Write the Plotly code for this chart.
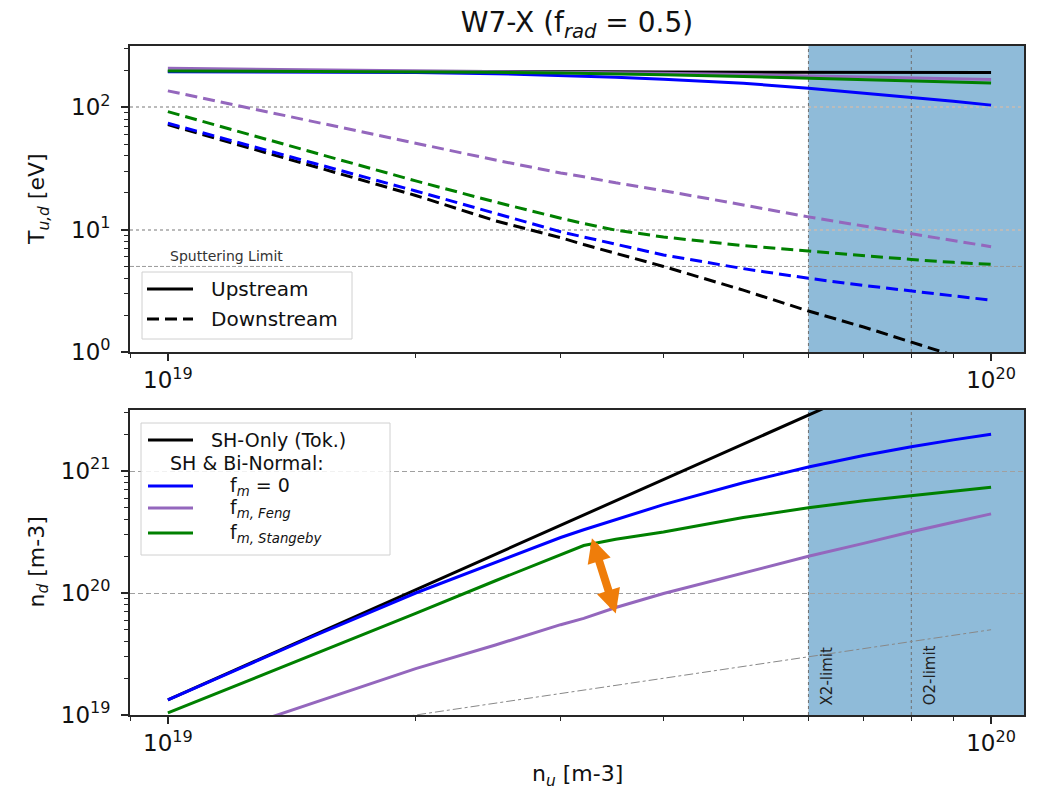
import plotly.graph_objects as go
import math

# ---------------- data ----------------
n_u = [1.0e19, 1.25e19, 1.5e19, 2.0e19, 2.5e19, 3.0e19, 3.2e19, 3.5e19,
       4.0e19, 5.0e19, 6.0e19, 7.0e19, 8.0e19, 9.0e19, 1.0e20]

# upstream temperature [eV]
T_up_sh       = [197, 197, 196, 196, 196, 195, 195, 195, 194, 193, 192, 192, 192, 192, 192]
T_up_fm0      = [195, 194, 193, 192, 188, 182, 180, 176, 169, 157, 143, 131, 121, 112, 104]
T_up_feng     = [208, 205, 203, 200, 197, 194, 193, 191, 189, 185, 181, 177, 174, 171, 168]
T_up_stangeby = [198, 197, 196, 195, 193, 190, 189, 187, 184, 178, 172, 167, 163, 160, 158]

# downstream temperature [eV]
T_dn_sh       = [72, 47, 33, 19, 11.8, 8.6, 7.55, 6.4, 5.0, 3.2, 2.16, 1.6, 1.2, 0.94, 0.75]
T_dn_fm0      = [74, 48.8, 35, 20.7, 13.5, 9.6, 8.7, 7.6, 6.2, 4.8, 4.0, 3.5, 3.15, 2.88, 2.65]
T_dn_feng     = [136, 99, 77, 51, 37, 29, 27, 24.1, 20.8, 15.9, 12.7, 10.7, 9.25, 8.1, 7.25]
T_dn_stangeby = [92, 60, 42.8, 25, 16.8, 12.4, 11.2, 9.9, 8.7, 7.4, 6.7, 6.1, 5.7, 5.4, 5.2]

# downstream density [m-3]
nd_sh       = [1.33e19, 2.6e19, 4.5e19, 1.06e20, 2.08e20, 3.6e20, 4.36e20, 5.7e20,
               8.5e20, 1.66e21, 2.87e21, 4.56e21, 6.8e21, 9.7e21, 1.33e22]
nd_fm0      = [1.33e19, 2.58e19, 4.4e19, 1.0e20, 1.77e20, 2.85e20, 3.3e20, 4.0e20,
               5.3e20, 8.0e20, 1.08e21, 1.34e21, 1.58e21, 1.8e21, 2.0e21]
nd_feng     = [5.0e18, 8.3e18, 1.25e19, 2.4e19, 3.75e19, 5.5e19, 6.2e19, 7.6e19,
               9.9e19, 1.45e20, 2.0e20, 2.55e20, 3.18e20, 3.8e20, 4.45e20]
nd_stangeby = [1.04e19, 1.9e19, 3.1e19, 6.8e19, 1.26e20, 2.07e20, 2.45e20, 2.76e20,
               3.16e20, 4.15e20, 5.0e20, 5.7e20, 6.3e20, 6.85e20, 7.35e20]

# reference line n_d = n_u / 2
ref_nu = [1.0e19, 1.0e20]
ref_nd = [0.5e19, 0.5e20]

SPUTTER_T = 5.0
X2_LIMIT = 6.0e19
O2_LIMIT = 8.0e19

arrow_top = (3.27e19, 2.89e20)
arrow_bot = (3.50e19, 6.8e19)

XRANGE = [18.954, 20.040]
Y1RANGE = [0.0, 2.5]
Y2RANGE = [19.0, 21.5]

# ---------------- styling ----------------
FONT = "DejaVu Sans"
W, H = 1043, 798
ML, MR, MT, MB = 130, 19, 46, 83
PH = H - MT - MB
top_dom = [1 - (352 - MT) / PH, 1.0]
bot_dom = [0.0, 1 - (410 - MT) / PH]

C_BLACK = "#000000"
C_BLUE = "#0000ff"
C_PURPLE = "#9467bd"
C_GREEN = "#008000"
C_SHADE = "rgba(31,119,180,0.5)"
DASH = "12px,6px"
LW = 3

fig = go.Figure()

def add(x, y, color, dash, xa, ya, width=LW):
    fig.add_trace(go.Scatter(x=x, y=y, mode="lines", xaxis=xa, yaxis=ya,
                             line=dict(color=color, width=width, dash=dash),
                             showlegend=False, hoverinfo="skip"))

# top panel
add(n_u, T_up_sh, C_BLACK, "solid", "x", "y")
add(n_u, T_up_fm0, C_BLUE, "solid", "x", "y")
add(n_u, T_up_feng, C_PURPLE, "solid", "x", "y")
add(n_u, T_up_stangeby, C_GREEN, "solid", "x", "y")
add(n_u, T_dn_sh, C_BLACK, DASH, "x", "y")
add(n_u, T_dn_fm0, C_BLUE, DASH, "x", "y")
add(n_u, T_dn_feng, C_PURPLE, DASH, "x", "y")
add(n_u, T_dn_stangeby, C_GREEN, DASH, "x", "y")

# bottom panel
add(ref_nu, ref_nd, "#888888", "dashdot", "x2", "y2", width=1)
add(n_u, nd_sh, C_BLACK, "solid", "x2", "y2")
add(n_u, nd_fm0, C_BLUE, "solid", "x2", "y2")
add(n_u, nd_feng, C_PURPLE, "solid", "x2", "y2")
add(n_u, nd_stangeby, C_GREEN, "solid", "x2", "y2")

def minor_vals(lo, hi):
    vals = []
    for d in range(lo, hi + 1):
        for m in range(2, 10):
            vals.append(m * 10.0 ** d)
    return vals

def sup(e):
    return "10<sup>%d</sup>" % e

axis_common = dict(type="log", showline=True, mirror=True, linecolor="#262626",
                   linewidth=1.6, ticks="outside", ticklen=7, tickwidth=1.5,
                   tickcolor="#262626", tickfont=dict(family=FONT, size=23, color="#111"),
                   zeroline=False)

x_ticks = dict(tickmode="array", tickvals=[1e19, 1e20], ticktext=[sup(19), sup(20)],
               minor=dict(tickmode="array", tickvals=minor_vals(18, 19), ticks="outside",
                          ticklen=4, tickwidth=1.2, tickcolor="#262626", showgrid=False),
               range=XRANGE, showgrid=False)

fig.update_layout(
    xaxis=dict(**axis_common, **x_ticks, domain=[0, 1], anchor="y"),
    xaxis2=dict(**axis_common, **x_ticks, domain=[0, 1], anchor="y2"),
    yaxis=dict(**axis_common, domain=top_dom, anchor="x", range=Y1RANGE,
               tickmode="array", tickvals=[1, 10, 100], ticktext=[sup(0), sup(1), sup(2)],
               ticklabelstandoff=6,
               showgrid=True, gridcolor="#bbbbbb", gridwidth=2, griddash="3px,3px",
               minor=dict(tickmode="array", tickvals=minor_vals(0, 2), ticks="outside",
                          ticklen=4, tickwidth=1.2, tickcolor="#262626", showgrid=False)),
    yaxis2=dict(**axis_common, domain=bot_dom, anchor="x2", range=Y2RANGE,
                tickmode="array", tickvals=[1e19, 1e20, 1e21], ticktext=[sup(19), sup(20), sup(21)],
                ticklabelstandoff=6,
                showgrid=True, gridcolor="#a0a0a0", gridwidth=1, griddash="5px,3px",
                minor=dict(tickmode="array", tickvals=minor_vals(19, 21), ticks="outside",
                           ticklen=4, tickwidth=1.2, tickcolor="#262626", showgrid=False)),
    width=W, height=H, margin=dict(l=ML, r=MR, t=MT, b=MB),
    plot_bgcolor="white", paper_bgcolor="white",
    font=dict(family=FONT, color="#111"),
    hovermode=False, showlegend=False,
    title=dict(text="W7-X (f<sub><i>rad</i></sub> = 0.5)", x=0.5, xref="paper",
               xanchor="center", y=1 - 22 / H, yref="container", yanchor="middle",
               font=dict(family=FONT, size=28, color="#111")),
)

shapes = []
x_right = 10 ** XRANGE[1]
for xa, ya in [("x", "y"), ("x2", "y2")]:
    shapes.append(dict(type="rect", xref=xa, yref=ya + " domain", x0=X2_LIMIT, x1=x_right,
                       y0=0, y1=1, fillcolor=C_SHADE, line=dict(width=0), layer="below"))
    for xv in (X2_LIMIT, O2_LIMIT):
        shapes.append(dict(type="line", xref=xa, yref=ya + " domain", x0=xv, x1=xv, y0=0, y1=1,
                           line=dict(color="#6e6e6e", width=1, dash="3px,3px"), layer="below"))
# sputtering limit
shapes.append(dict(type="line", xref="x domain", yref="y", x0=0, x1=1, y0=SPUTTER_T, y1=SPUTTER_T,
                   line=dict(color="#999999", width=1, dash="4px,2px"), layer="below"))

annotations = []

# legends (manual)
PW = W - ML - MR
def dx(px):
    return (px - ML) / PW
def dy_top(py):
    return (352 - py) / (352 - 46)
def dy_bot(py):
    return (715 - py) / (715 - 410)

# top legend
shapes.append(dict(type="rect", xref="x domain", yref="y domain", x0=dx(142), x1=dx(352),
                   y0=dy_top(339), y1=dy_top(272), fillcolor="rgba(255,255,255,0.85)",
                   line=dict(color="#d0d0d0", width=1), layer="above"))
for py, dash, label in [(289, "solid", "Upstream"), (319, DASH, "Downstream")]:
    shapes.append(dict(type="line", xref="x domain", yref="y domain", x0=dx(147), x1=dx(193),
                       y0=dy_top(py), y1=dy_top(py), line=dict(color=C_BLACK, width=3, dash=dash),
                       layer="above"))
    annotations.append(dict(text=label, xref="x domain", yref="y domain", x=dx(209), y=dy_top(py),
                            xanchor="left", yanchor="middle", showarrow=False,
                            font=dict(family=FONT, size=20, color="#111")))

# bottom legend
LEG_FS = 19
shapes.append(dict(type="rect", xref="x2 domain", yref="y2 domain", x0=dx(141), x1=dx(390),
                   y0=dy_bot(555), y1=dy_bot(423), fillcolor="rgba(255,255,255,0.85)",
                   line=dict(color="#d0d0d0", width=1), layer="above"))
leg2 = [(440, C_BLACK, "SH-Only (Tok.)", 210),
        (486, C_BLUE, "f<sub><i>m</i></sub> = 0", 229),
        (508, C_PURPLE, "f<sub><i>m, Feng</i></sub>", 229),
        (533, C_GREEN, "f<sub><i>m, Stangeby</i></sub>", 229)]
for py, col, label, tx in leg2:
    shapes.append(dict(type="line", xref="x2 domain", yref="y2 domain", x0=dx(148), x1=dx(193),
                       y0=dy_bot(py), y1=dy_bot(py), line=dict(color=col, width=3), layer="above"))
    annotations.append(dict(text=label, xref="x2 domain", yref="y2 domain", x=dx(tx), y=dy_bot(py),
                            xanchor="left", yanchor="middle", showarrow=False, borderpad=0,
                            font=dict(family=FONT, size=LEG_FS, color="#111")))
annotations.append(dict(text="SH &amp; Bi-Normal:", xref="x2 domain", yref="y2 domain", x=dx(169),
                        y=dy_bot(463), xanchor="left", yanchor="middle", showarrow=False,
                        borderpad=0, font=dict(family=FONT, size=LEG_FS, color="#111")))

# sputtering limit text
annotations.append(dict(text="Sputtering Limit", xref="x", yref="y", x=math.log10(n_u[0]),
                        y=math.log10(SPUTTER_T), xanchor="left", yanchor="bottom", yshift=0,
                        showarrow=False, font=dict(family=FONT, size=14, color="#333")))

# X2 / O2 limit labels
for xv, label in [(X2_LIMIT, "X2-limit"), (O2_LIMIT, "O2-limit")]:
    annotations.append(dict(text=label, xref="x2", yref="y2 domain", x=math.log10(xv), y=0,
                            xanchor="left", yanchor="bottom", xshift=8, yshift=8, textangle=-90,
                            showarrow=False, font=dict(family=FONT, size=15, color="#222")))

# orange double arrow
annotations.append(dict(text="", xref="x2", yref="y2", axref="x2", ayref="y2",
                        x=math.log10(arrow_bot[0]), y=math.log10(arrow_bot[1]),
                        ax=math.log10(arrow_top[0]), ay=math.log10(arrow_top[1]),
                        showarrow=True, arrowside="end+start", arrowhead=2, startarrowhead=2,
                        arrowsize=0.6, startarrowsize=0.6, arrowwidth=8, arrowcolor="#ef7d0a"))

# axis titles
annotations.append(dict(text="T<sub><i>u,d</i></sub> [eV]", xref="paper", yref="paper", x=0,
                        y=(top_dom[0] + top_dom[1]) / 2, xshift=-(ML - 38), textangle=-90,
                        xanchor="center", yanchor="middle", showarrow=False,
                        font=dict(family=FONT, size=22, color="#111")))
annotations.append(dict(text="n<sub><i>d</i></sub> [m-3]", xref="paper", yref="paper", x=0,
                        y=(bot_dom[0] + bot_dom[1]) / 2, xshift=-(ML - 38), textangle=-90,
                        xanchor="center", yanchor="middle", showarrow=False,
                        font=dict(family=FONT, size=22, color="#111")))
annotations.append(dict(text="n<sub><i>u</i></sub> [m-3]", xref="paper", yref="paper", x=0.5,
                        y=0, yshift=-(775 - 715), xanchor="center", yanchor="middle",
                        showarrow=False, font=dict(family=FONT, size=22, color="#111")))

fig.update_layout(shapes=shapes, annotations=annotations)
fig.write_html("out.html")
